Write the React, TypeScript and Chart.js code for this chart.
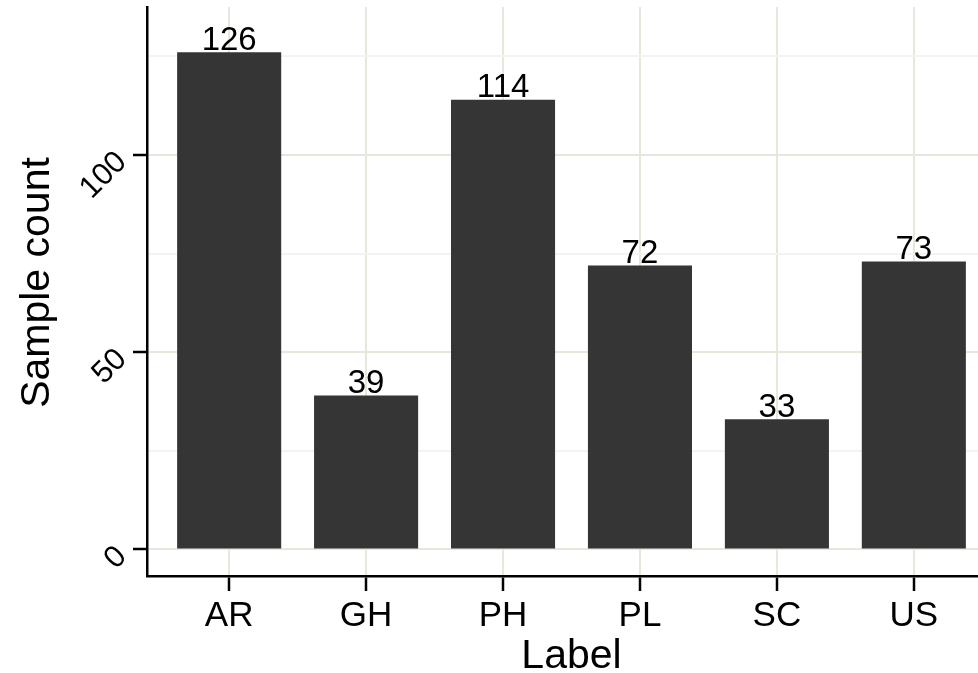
import React, { useEffect, useRef } from "react";
import { Chart, registerables } from "chart.js";

Chart.register(...registerables);

const categories = ["AR", "GH", "PH", "PL", "SC", "US"];
const sampleCounts = [126, 39, 114, 72, 33, 73];
const yMajorTicks = [0, 50, 100];
const yAllTicks = [0, 25, 50, 75, 100, 125];
const yTitle = "Sample count";
const xTitle = "Label";

const FONT = "'Liberation Sans', Arial, sans-serif";
const MAJOR = "#E9E6DC";
const MINOR = "#F5F3EE";

const labelPlugin = {
  id: "barValueLabels",
  afterDatasetsDraw(chart: any) {
    const ctx = chart.ctx;
    const meta = chart.getDatasetMeta(0);
    ctx.save();
    ctx.font = `33px ${FONT}`;
    ctx.fillStyle = "#000000";
    ctx.textAlign = "center";
    ctx.textBaseline = "alphabetic";
    meta.data.forEach((el: any, i: number) => {
      ctx.fillText(String(sampleCounts[i]), el.x, el.y - 2.5);
    });
    ctx.restore();
  },
};

const yTitlePlugin = {
  id: "yAxisTitle",
  afterDraw(chart: any) {
    const ctx = chart.ctx;
    const area = chart.chartArea;
    ctx.save();
    ctx.font = `41px ${FONT}`;
    ctx.fillStyle = "#000000";
    ctx.textAlign = "center";
    ctx.textBaseline = "middle";
    ctx.translate(37.6, (area.top + area.bottom) / 2 - 9);
    ctx.rotate(-Math.PI / 2);
    ctx.fillText(yTitle, 0, 0);
    ctx.restore();
  },
};

export default function App() {
  const ref = useRef<HTMLCanvasElement | null>(null);

  useEffect(() => {
    if (!ref.current) return;
    const chart = new Chart(ref.current, {
      type: "bar",
      data: {
        datasets: [
          {
            data: sampleCounts.map((v, i) => ({ x: i, y: v })),
            backgroundColor: "#353535",
            borderWidth: 0,
            barPercentage: 0.76,
            categoryPercentage: 1,
          },
        ],
      },
      options: {
        responsive: false,
        animation: false,
        layout: { padding: { top: 7, left: 0, right: 0, bottom: 0 } },
        plugins: {
          legend: { display: false },
          tooltip: { enabled: false },
        },
        scales: {
          x: {
            type: "linear",
            offset: false,
            min: -0.6,
            max: 5.6,
            afterBuildTicks: (axis: any) => {
              axis.ticks = categories.map((_, i) => ({ value: i }));
            },
            afterFit: (axis: any) => {
              axis.height = 97;
              axis.paddingLeft = 0;
              axis.paddingRight = 0;
            },
            ticks: {
              callback: (v: any) => categories[v] ?? "",
              font: { family: FONT, size: 35 },
              color: "#000000",
              padding: 4,
              maxRotation: 0,
              minRotation: 0,
              autoSkip: false,
            },
            grid: {
              offset: false,
              color: MAJOR,
              lineWidth: 2,
              tickColor: "#000000",
              tickWidth: 2.5,
              tickLength: 15,
              drawTicks: true,
            },
            border: { display: true, color: "#000000", width: 2.5 },
            title: {
              display: true,
              text: xTitle,
              font: { family: FONT, size: 41, lineHeight: 0.8 },
              color: "#000000",
              padding: 0,
            },
          },
          y: {
            type: "linear",
            min: -6.72,
            max: 137.48,
            afterBuildTicks: (axis: any) => {
              axis.ticks = yAllTicks.map((v) => ({ value: v }));
            },
            afterFit: (axis: any) => {
              axis.width = 147;
              axis.paddingTop = 0;
              axis.paddingBottom = 0;
            },
            ticks: {
              callback: (v: any) => (yMajorTicks.includes(v) ? String(v) : ""),
              font: { family: FONT, size: 31 },
              color: "#000000",
              padding: 11,
              minRotation: 45,
              maxRotation: 45,
              labelOffset: 2.3,
              autoSkip: false,
            },
            grid: {
              color: (c: any) =>
                yMajorTicks.includes(c.tick?.value) ? MAJOR : MINOR,
              lineWidth: 2,
              tickColor: (c: any) =>
                yMajorTicks.includes(c.tick?.value) ? "#000000" : "rgba(0,0,0,0)",
              tickWidth: 2.5,
              tickLength: 14,
              drawTicks: true,
            },
            border: { display: true, color: "#000000", width: 2.5 },
            title: { display: false },
          },
        },
      },
      plugins: [labelPlugin, yTitlePlugin],
    } as any);
    return () => chart.destroy();
  }, []);

  return (
    <div
      style={{
        position: "fixed",
        left: 0,
        top: 0,
        width: 978,
        height: 673,
        overflow: "hidden",
        background: "#ffffff",
      }}
    >
      <canvas
        ref={ref}
        width={996}
        height={673}
        style={{ display: "block", position: "absolute", left: 0, top: 0 }}
      />
    </div>
  );
}
